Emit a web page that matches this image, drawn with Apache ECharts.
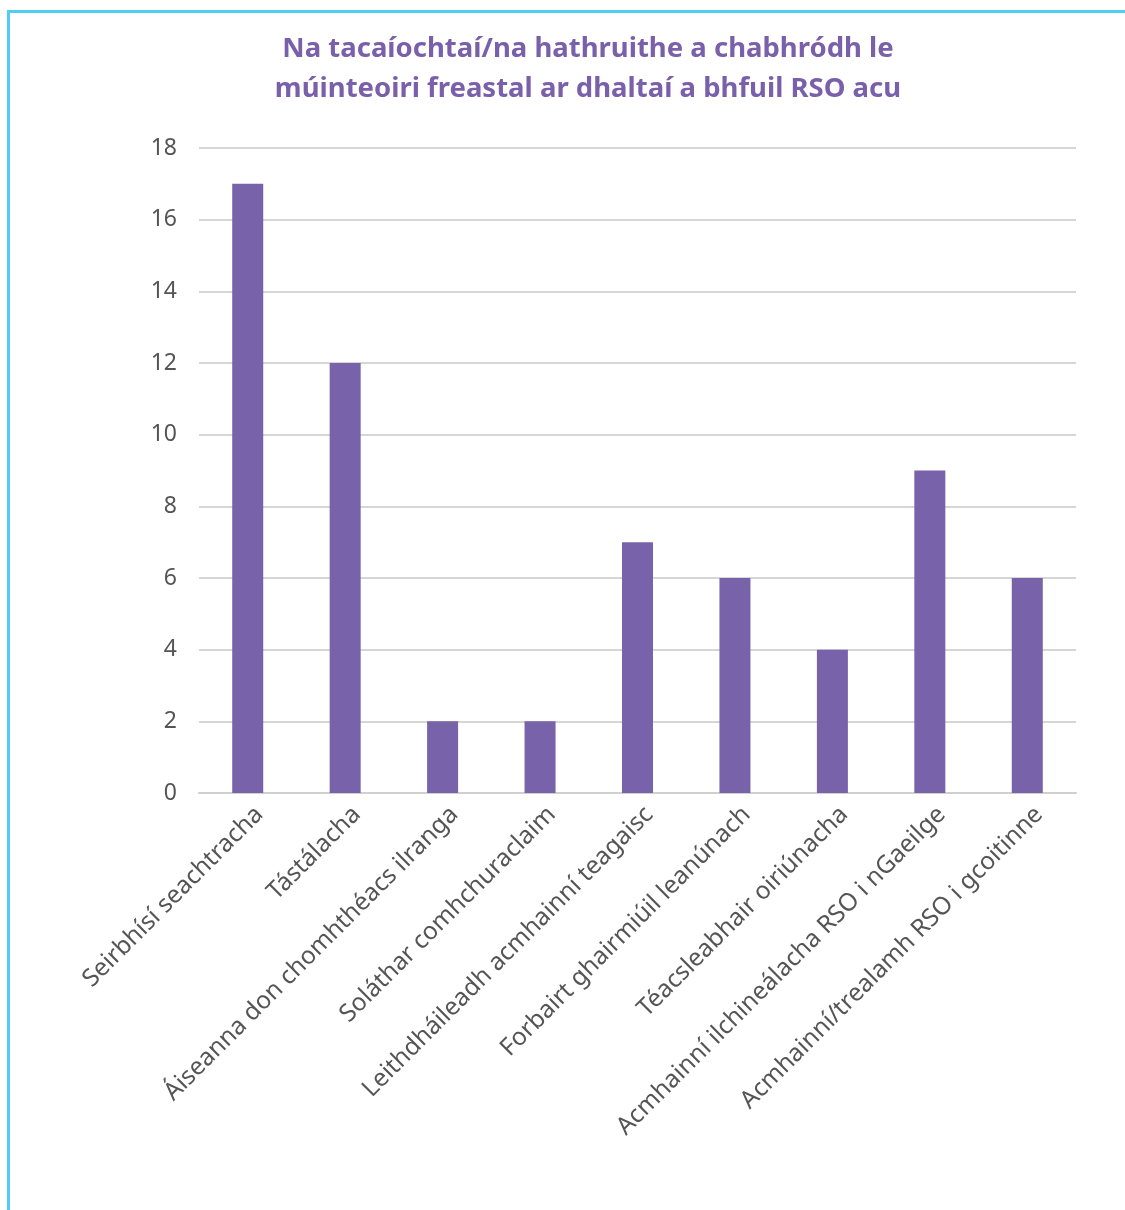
<!DOCTYPE html>
<html><head><meta charset="utf-8">
<script src="https://cdn.jsdelivr.net/npm/echarts@6/dist/echarts.min.js"></script>
<style>
html,body{margin:0;padding:0;background:#fff;overflow:hidden;}
#frame{position:absolute;left:7px;top:10px;width:1118px;height:1200px;border-left:3px solid #4fcdf3;border-top:3px solid #4fcdf3;box-sizing:border-box;}
#chart{position:absolute;left:0;top:0;width:1125px;height:1210px;}
</style></head>
<body>
<div id="frame"></div>
<div id="chart"></div>
<script>
const titleText = "Na tacaíochtaí/na hathruithe a chabhródh le\nmúinteoiri freastal ar dhaltaí a bhfuil RSO acu";
const categories = ["Seirbhísí seachtracha","Tástálacha","Áiseanna don chomhthéacs ilranga","Soláthar comhchuraclaim","Leithdháileadh acmhainní teagaisc","Forbairt ghairmiúil leanúnach","Téacsleabhair oiriúnacha","Acmhainní ilchineálacha RSO i nGaeilge","Acmhainní/trealamh RSO i gcoitinne"];
const values = [17,12,2,2,7,6,4,9,6];
const yTicks = {min:0,max:18,interval:2};

const chart = echarts.init(document.getElementById('chart'));
chart.setOption({
  animation:false,
  title:{text:titleText,left:583,top:24,textAlign:'center',
    textStyle:{color:'#7a5fab',fontFamily:'Noto Sans',fontWeight:'bold',fontSize:27.5,lineHeight:40}},
  grid:{left:199,right:49,top:148,bottom:417,containLabel:false},
  xAxis:{type:'category',data:categories,
    axisLine:{lineStyle:{color:'#d0d0d0',width:2}},axisTick:{show:false},
    axisLabel:{rotate:45,interval:0,color:'#555',fontFamily:'Noto Sans',fontSize:24.5,margin:6,verticalAlign:'top',padding:[4,0,0,0]}},
  yAxis:{type:'value',min:yTicks.min,max:yTicks.max,interval:yTicks.interval,
    axisLine:{show:false},axisTick:{show:false},
    splitLine:{lineStyle:{color:'#d6d6d6',width:2}},
    axisLabel:{color:'#555',fontFamily:'Noto Sans',fontSize:23,margin:22}},
  series:[{type:'bar',data:values,barWidth:31,itemStyle:{color:'#7862aa'}}]
});
</script>
</body></html>
